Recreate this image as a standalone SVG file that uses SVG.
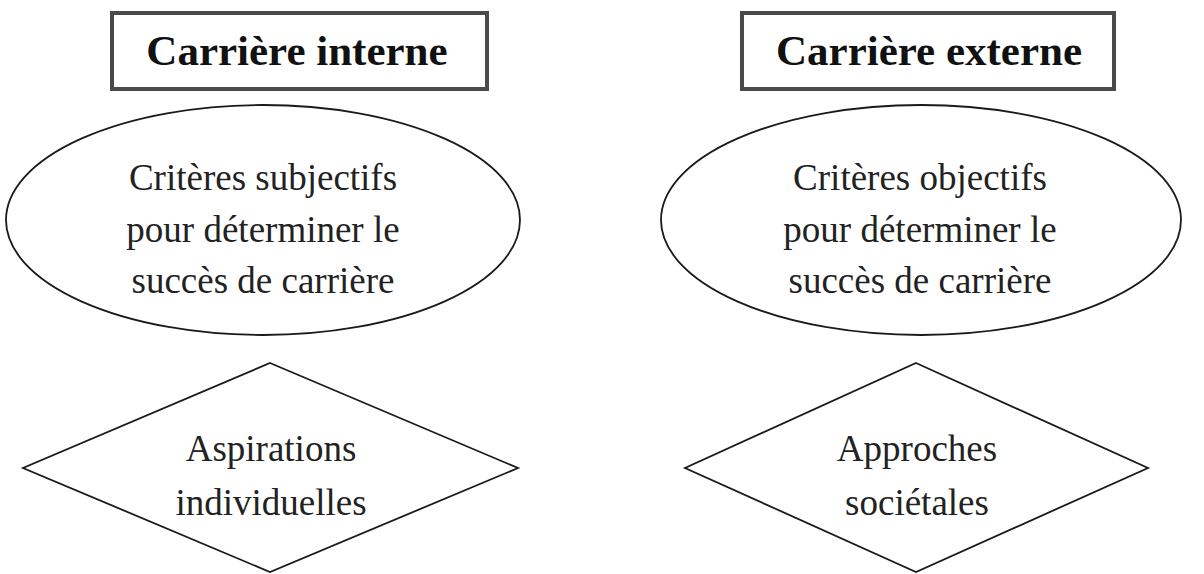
<svg xmlns="http://www.w3.org/2000/svg" width="1204" height="574" viewBox="0 0 1204 574">
  <style>
    .box { fill: #ffffff; stroke: #4a4a4a; stroke-width: 4; }
    .shape { fill: #ffffff; stroke: #1a1a1a; stroke-width: 1.8; }
    .title { font-family: "Liberation Serif", "Times New Roman", serif; font-weight: bold; font-size: 43px; fill: #111; text-anchor: middle; }
    .label { font-family: "Liberation Serif", "Times New Roman", serif; font-size: 37px; fill: #222; text-anchor: middle; }
  </style>
  <rect width="1204" height="574" fill="#ffffff"/>

  <!-- left column: internal career -->
  <g id="carriere-interne">
    <rect class="box" x="112" y="13" width="375" height="76"/>
    <text class="title" x="297" y="65">Carrière interne</text>
  </g>
  <g id="criteres-subjectifs">
    <ellipse class="shape" cx="263" cy="220" rx="257" ry="115"/>
    <text class="label" x="263" y="190">Critères subjectifs</text>
    <text class="label" x="263" y="242">pour déterminer le</text>
    <text class="label" x="263" y="293">succès de carrière</text>
  </g>
  <g id="aspirations-individuelles">
    <polygon class="shape" points="270,363 518,468 270,572 23,468"/>
    <text class="label" x="271" y="461">Aspirations</text>
    <text class="label" x="271" y="515">individuelles</text>
  </g>

  <!-- right column: external career -->
  <g id="carriere-externe">
    <rect class="box" x="742" y="13" width="372" height="76"/>
    <text class="title" x="929" y="65">Carrière externe</text>
  </g>
  <g id="criteres-objectifs">
    <ellipse class="shape" cx="921" cy="220" rx="260" ry="115"/>
    <text class="label" x="920" y="190">Critères objectifs</text>
    <text class="label" x="920" y="242">pour déterminer le</text>
    <text class="label" x="920" y="293">succès de carrière</text>
  </g>
  <g id="approches-societales">
    <polygon class="shape" points="916,363 1148,468 916,572 685,468"/>
    <text class="label" x="917" y="461">Approches</text>
    <text class="label" x="917" y="515">sociétales</text>
  </g>

  <g id="connectors"></g>
</svg>
